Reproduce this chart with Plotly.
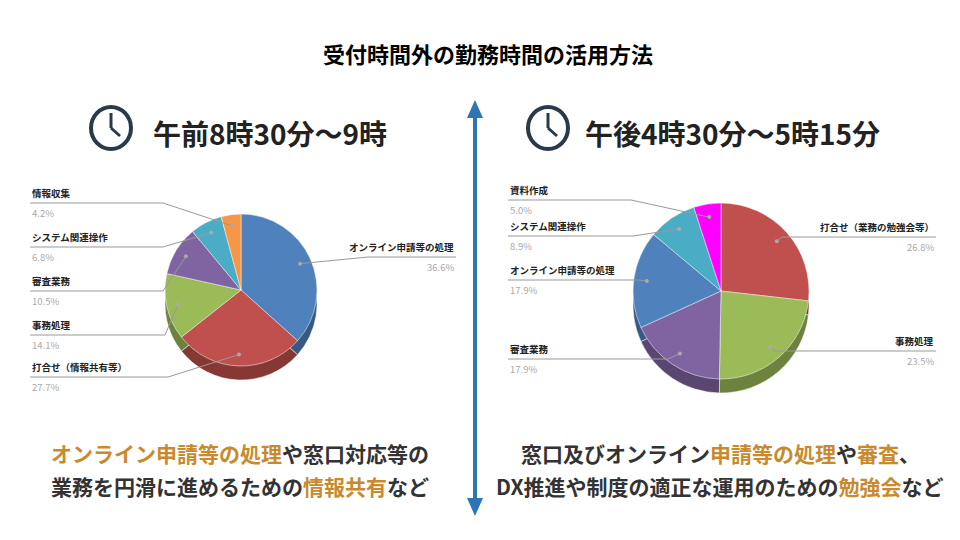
import math
import plotly.graph_objects as go

am_labels = ["オンライン申請等の処理", "打合せ（情報共有等）", "事務処理", "審査業務", "システム関連操作", "情報収集"]
am_values = [36.6, 27.7, 14.1, 10.5, 6.8, 4.2]
am_colors = ["#4F81BD", "#C0504D", "#9BBB59", "#8064A2", "#4BACC6", "#F79646"]

pm_labels = ["打合せ（業務の勉強会等）", "事務処理", "審査業務", "オンライン申請等の処理", "システム関連操作", "資料作成"]
pm_values = [26.8, 23.5, 17.9, 17.9, 8.9, 5.0]
pm_colors = ["#C0504D", "#9BBB59", "#8064A2", "#4F81BD", "#4BACC6", "#FF00FF"]

FONT = "Noto Sans CJK JP"
W, H = 960, 540


def px(x):
    return x / W


def py(y):
    return 1 - y / H


def dark(c, f=0.7):
    r, g, b = int(c[1:3], 16), int(c[3:5], 16), int(c[5:7], 16)
    return "rgb(%d,%d,%d)" % (r * f, g * f, b * f)


fig = go.Figure()
shapes = []
annotations = []


def add_pie(labels, values, colors, cx, cy, r, label_pos):
    # depth layer, then top face
    for dy, cols in ((14, [dark(c) for c in colors]), (0, colors)):
        fig.add_trace(go.Pie(
            labels=labels, values=values, sort=False, direction="clockwise",
            marker=dict(colors=cols, line=dict(color="white", width=0.5)),
            textinfo="none", hoverinfo="label+percent", showlegend=False,
            domain=dict(x=[px(cx - r), px(cx + r)], y=[py(cy + dy + r), py(cy + dy - r)]),
        ))
    total = sum(values)
    cum = 0
    for lab, v, (side, ly, bx, x0) in zip(labels, values, label_pos):
        th = 2 * math.pi * (cum + v / 2) / total
        cum += v
        dx_ = cx + 0.85 * r * math.sin(th)
        dy_ = cy - 0.85 * r * math.cos(th)
        shapes.append(dict(type="line", xref="paper", yref="paper", x0=px(x0), y0=py(ly),
                           x1=px(bx), y1=py(ly), line=dict(color="#999", width=1)))
        shapes.append(dict(type="line", xref="paper", yref="paper", x0=px(bx), y0=py(ly),
                           x1=px(dx_), y1=py(dy_), line=dict(color="#999", width=1)))
        shapes.append(dict(type="circle", xref="paper", yref="paper", x0=px(dx_ - 2), y0=py(dy_ + 2),
                           x1=px(dx_ + 2), y1=py(dy_ - 2), fillcolor="#aaa", line=dict(width=0)))
        anchor = "left" if side == "l" else "right"
        annotations.append(dict(x=px(x0), y=py(ly - 1), text="<b>" + lab + "</b>", showarrow=False,
                                xanchor=anchor, yanchor="bottom", font=dict(size=9.5, color="#222", family=FONT)))
        annotations.append(dict(x=px(x0), y=py(ly + 1), text="%.1f%%" % v, showarrow=False,
                                xanchor=anchor, yanchor="top", font=dict(size=9.5, color="#aaa", family=FONT)))


add_pie(am_labels, am_values, am_colors, 233, 282, 76, [
    ("r", 249, 360, 448), ("l", 369, 160, 22), ("l", 327, 157, 22),
    ("l", 283, 155, 22), ("l", 239, 155, 22), ("l", 195, 155, 22)])
add_pie(pm_labels, pm_values, pm_colors, 713, 283, 88, [
    ("r", 229, 774, 928), ("r", 343, 767, 928), ("l", 351, 660, 500),
    ("l", 272, 630, 500), ("l", 228, 625, 500), ("l", 192, 623, 500)])

# clocks
for cx in (103, 540):
    shapes.append(dict(type="circle", xref="paper", yref="paper", x0=px(cx - 20), y0=py(141),
                       x1=px(cx + 20), y1=py(99), fillcolor="white", line=dict(color="#2b3a4a", width=4)))
    shapes.append(dict(type="line", xref="paper", yref="paper", x0=px(cx), y0=py(120), x1=px(cx), y1=py(105),
                       line=dict(color="#2b3a4a", width=3)))
    shapes.append(dict(type="line", xref="paper", yref="paper", x0=px(cx), y0=py(120), x1=px(cx + 9), y1=py(128),
                       line=dict(color="#2b3a4a", width=3)))

# divider arrow
shapes.append(dict(type="line", xref="paper", yref="paper", x0=px(467), y0=py(110), x1=px(467), y1=py(490),
                   line=dict(color="#2E75B6", width=4)))
for ya, yb in ((92, 110), (508, 490)):
    shapes.append(dict(type="path", xref="paper", yref="paper",
                       path="M %f %f L %f %f L %f %f Z" % (px(467), py(ya), px(459), py(yb), px(475), py(yb)),
                       fillcolor="#2E75B6", line=dict(width=0)))

OR = "#C98A2E"
TX = "#333333"
texts = [
    (480, 45, "<b>受付時間外の勤務時間の活用方法</b>", 22, "black"),
    (262, 125, "<b>午前8時30分～9時</b>", 28, "#222"),
    (724, 125, "<b>午後4時30分～5時15分</b>", 28, "#222"),
    (232, 445, "<b><span style='color:%s'>オンライン申請等の処理</span>や窓口対応等の</b>" % OR, 21, TX),
    (232, 478, "<b>業務を円滑に進めるための<span style='color:%s'>情報共有</span>など</b>" % OR, 21, TX),
    (712, 445, "<b>窓口及びオンライン<span style='color:%s'>申請等の処理</span>や<span style='color:%s'>審査</span>、</b>" % (OR, OR), 21, TX),
    (712, 478, "<b>DX推進や制度の適正な運用のための<span style='color:%s'>勉強会</span>など</b>" % OR, 21, TX),
]
for x, y, t, s, c in texts:
    annotations.append(dict(x=px(x), y=py(y), text=t, showarrow=False, xanchor="center", yanchor="middle",
                            font=dict(size=s, color=c, family=FONT)))

fig.update_layout(width=W, height=H, margin=dict(l=0, r=0, t=0, b=0), paper_bgcolor="white",
                  shapes=shapes, annotations=annotations, font=dict(family=FONT))
fig.write_html("out.html")
